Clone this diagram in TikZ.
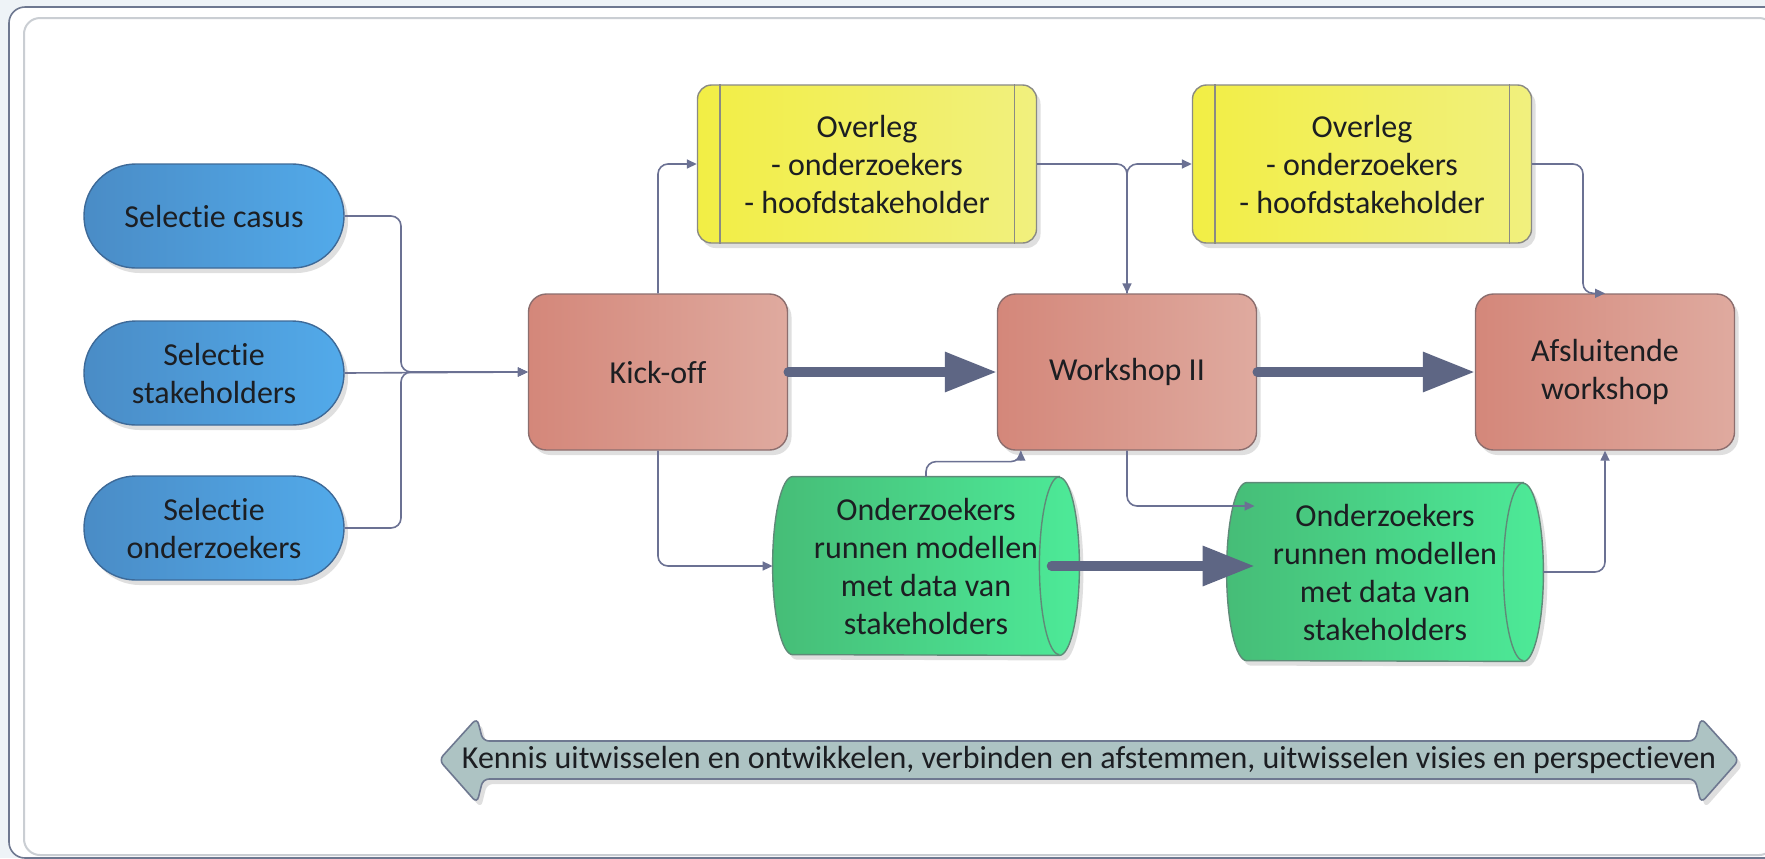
\documentclass[tikz,border=0pt]{standalone}
\usepackage{fontspec}
\setmainfont{Carlito}[Ligatures=NoCommon]
\usetikzlibrary{arrows.meta,shadows,backgrounds}

\definecolor{bgCol}{HTML}{EEF3F7}
\definecolor{frameCol}{HTML}{6E7890}
\definecolor{innerCol}{HTML}{CACED3}
\definecolor{txtCol}{HTML}{1C1E22}
\definecolor{blueA}{HTML}{4A8CC6}
\definecolor{blueB}{HTML}{52AAEA}
\definecolor{blueEdge}{HTML}{3E6A98}
\definecolor{salmonA}{HTML}{D4877A}
\definecolor{salmonB}{HTML}{DFAA9F}
\definecolor{salmonEdge}{HTML}{8C6E6E}
\definecolor{yellowA}{HTML}{F2EE45}
\definecolor{yellowB}{HTML}{F1F07E}
\definecolor{yellowEdge}{HTML}{8A8A84}
\definecolor{greenA}{HTML}{46BD77}
\definecolor{greenB}{HTML}{4DEA98}
\definecolor{greenEdge}{HTML}{5F8A78}
\definecolor{barFill}{HTML}{ADC3C3}
\definecolor{lineCol}{HTML}{6B7193}
\definecolor{flowCol}{HTML}{5E6684}

\tikzset{
  every node/.style={font=\fontsize{16}{19}\selectfont, text=txtCol, align=center},
  shadowed/.style={drop shadow={shadow xshift=2pt, shadow yshift=-2.5pt, opacity=.35, fill=black!35}},
  selectie/.style={shadowed, draw=blueEdge, line width=.7pt, left color=blueA, right color=blueB,
    rounded corners=25.9pt, minimum width=130pt, minimum height=52pt, inner sep=2pt},
  meeting/.style={shadowed, draw=salmonEdge, line width=.7pt, left color=salmonA, right color=salmonB,
    rounded corners=9pt, minimum width=129.5pt, minimum height=78pt, inner sep=2pt},
  overleg/.style={shadowed, draw=yellowEdge, line width=.7pt, left color=yellowA, right color=yellowB,
    rounded corners=7pt, minimum width=169.5pt, minimum height=79pt, inner sep=2pt},
  ovline/.style={draw=yellowEdge, line width=.7pt},
  modeltext/.style={minimum height=89pt, inner sep=2pt},
  model/.style={shadowed, draw=greenEdge, line width=.7pt, left color=greenA, right color=greenB},
  modelline/.style={draw=greenEdge, line width=.7pt},
  link/.style={draw=lineCol, line width=.8pt, rounded corners=5pt, -{Triangle[length=5pt,width=4.5pt]}},
  flow/.style={draw=flowCol, line width=4.7pt, line cap=round, -{Triangle[length=26pt,width=19pt]}},
  bar/.style={shadowed, draw=frameCol, line width=.8pt, fill=barFill, rounded corners=3pt}
}

\begin{document}
\begin{tikzpicture}[x=0.5pt, y=-0.5pt]
  \useasboundingbox (0,0) rectangle (1765,858);
  \begin{scope}[on background layer]
    \fill[bgCol] (0,0) rectangle (1765,858);
    \draw[frameCol, line width=.8pt, fill=white, rounded corners=8pt] (9,7) rectangle (1800,858);
    \draw[innerCol, line width=1pt, rounded corners=8pt] (24,18) rectangle (1775,855);
  \end{scope}

  % selectie
  \node[selectie] (casus) at (214,216) {Selectie casus};
  \node[selectie] (stake) at (214,373) {Selectie\\stakeholders};
  \node[selectie] (onderz) at (214,528) {Selectie\\onderzoekers};

  % workshops
  \node[meeting] (kick) at (658,372) {Kick-off};
  \node[meeting] (ws) at (1127,372) {Workshop II};
  \node[meeting] (af) at (1605,372) {Afsluitende\\workshop};

  % overleg
  \node[overleg] (ov1) at (867,164) {Overleg\\- onderzoekers\\- hoofdstakeholder};
  \node[overleg] (ov2) at (1362,164) {Overleg\\- onderzoekers\\- hoofdstakeholder};
  \draw[ovline] ([xshift=11.5pt]ov1.north west) -- ([xshift=11.5pt]ov1.south west);
  \draw[ovline] ([xshift=-11.5pt]ov1.north east) -- ([xshift=-11.5pt]ov1.south east);
  \draw[ovline] ([xshift=11.5pt]ov2.north west) -- ([xshift=11.5pt]ov2.south west);
  \draw[ovline] ([xshift=-11.5pt]ov2.north east) -- ([xshift=-11.5pt]ov2.south east);

  % modellen
  \node[modeltext, minimum width=153pt] (gr1) at (926,566) {Onderzoekers\\runnen modellen\\met data van\\stakeholders};
  \node[modeltext, minimum width=158pt] (gr2) at (1385,572) {Onderzoekers\\runnen modellen\\met data van\\stakeholders};
  \begin{scope}[on background layer]
    \path[model] ([xshift=-10pt]gr1.north east) -- ([xshift=10pt]gr1.north west)
      arc[start angle=90, end angle=270, x radius=10pt, y radius=44.5pt]
      -- ([xshift=-10pt]gr1.south east)
      arc[start angle=-90, end angle=90, x radius=10pt, y radius=44.5pt] -- cycle;
    \draw[modelline] ([xshift=-10pt]gr1.north east) arc[start angle=90, end angle=270, x radius=10pt, y radius=44.5pt];
    \path[model] ([xshift=-10pt]gr2.north east) -- ([xshift=10pt]gr2.north west)
      arc[start angle=90, end angle=270, x radius=10pt, y radius=44.5pt]
      -- ([xshift=-10pt]gr2.south east)
      arc[start angle=-90, end angle=90, x radius=10pt, y radius=44.5pt] -- cycle;
    \draw[modelline] ([xshift=-10pt]gr2.north east) arc[start angle=90, end angle=270, x radius=10pt, y radius=44.5pt];
  \end{scope}

  % thin connectors
  \coordinate (jn) at (401,372);
  \draw[link] (casus.east) -| (jn) -- (kick.west);
  \draw[link] (stake.east) -- (kick.west);
  \draw[link] (onderz.east) -| (jn) -- (kick.west);
  \draw[link] (kick.north) |- (ov1.west);
  \draw[link] (kick.south) |- (gr1.west);
  \draw[link] (ov1.east) -| (ws.north);
  \draw[link] (ws.north) |- (ov2.west);
  \draw[link] (ov2.east) -| ([xshift=-11pt]af.north) -- (af.north);
  \draw[link] (gr1.north) -- ++(0,-15) -| ([xshift=12pt]ws.south west);
  \draw[link] (ws.south) |- ([xshift=14pt,yshift=33pt]gr2.west);
  \draw[link] (gr2.east) -| (af.south);

  % main flow
  \draw[flow] (kick.east) -- (ws.west);
  \draw[flow] (ws.east) -- (af.west);
  \draw[flow] ([xshift=-14pt]gr1.east) -- ([xshift=14pt]gr2.west |- gr1.east);

  % kennis balk
  \draw[bar] (439,760) -- (477,718) -- (483,741) -- (1695,741) -- (1701,718) -- (1739,760)
    -- (1701,803) -- (1695,779) -- (483,779) -- (477,803) -- cycle;
  \node (kennis) at (1089,760) {Kennis uitwisselen en ontwikkelen, verbinden en afstemmen, uitwisselen visies en perspectieven};
\end{tikzpicture}
\end{document}
